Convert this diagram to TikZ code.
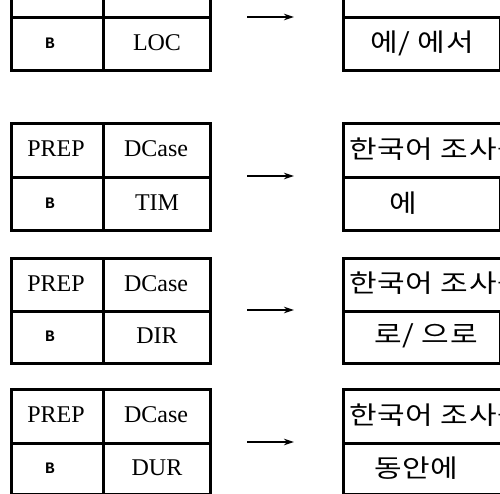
\documentclass[tikz,border=0pt]{standalone}
\usepackage{fontspec}
\setmainfont{Liberation Serif}
\newfontfamily\kr{Noto Sans CJK KR}[FakeStretch=1.2,LetterSpace=3]
\newfontfamily\bmono{Liberation Mono}
\usetikzlibrary{arrows.meta}
\begin{document}
\begin{tikzpicture}[x=1pt,y=-1pt,
  cell/.style={draw,line width=2.6pt,inner sep=0pt,anchor=north west},
  lab/.style={inner sep=0pt,font=\fontsize{24}{24}\selectfont},
  blab/.style={inner sep=0pt,font=\bmono\bfseries\fontsize{16}{16}\selectfont},
  klab/.style={inner sep=0pt,anchor=west,font=\kr\fontsize{25}{25}\selectfont},
  arr/.style={line width=1.3pt,-{Stealth[length=10pt,width=6.5pt]}}]
\useasboundingbox (0,0) rectangle (500,494);
\begin{scope}
\clip (0,0) rectangle (500,494);
% ---------- block 1 ----------
\node[cell,minimum width=92pt,minimum height=54pt] (L1a) at (10,-38) {};
\node[cell,minimum width=107pt,minimum height=54pt] (L1b) at (102,-38) {};
\node[cell,minimum width=92pt,minimum height=53pt] (L1c) at (10,16) {};
\node[cell,minimum width=107pt,minimum height=53pt] (L1d) at (102,16) {};
\node[blab] (t1c) at (50,43) {B};
\node[lab] (t1d) at (157,43) {LOC};
\node[cell,minimum width=240pt,minimum height=54pt] (R1a) at (342,-38) {};
\node[cell,minimum width=157pt,minimum height=53pt] (R1c) at (342,16) {};
\node[cell,minimum width=80pt,minimum height=53pt] (R1d) at (499,16) {};
\node[klab] (k1c) at (370,43) {에/ 에서};
\coordinate (a1s) at (247,17);
\coordinate (a1e) at (294,17);
\draw[arr] (a1s) -- (a1e);
% ---------- block 2 ----------
\node[cell,minimum width=92pt,minimum height=54pt] (L2a) at (10,122) {};
\node[cell,minimum width=107pt,minimum height=54pt] (L2b) at (102,122) {};
\node[cell,minimum width=92pt,minimum height=53pt] (L2c) at (10,176) {};
\node[cell,minimum width=107pt,minimum height=53pt] (L2d) at (102,176) {};
\node[lab] (t2a) at (56,149) {PREP};
\node[lab] (t2b) at (156,149) {DCase};
\node[blab] (t2c) at (50,203) {B};
\node[lab] (t2d) at (157,203) {TIM};
\node[cell,minimum width=240pt,minimum height=54pt] (R2a) at (342,122) {};
\node[cell,minimum width=157pt,minimum height=53pt] (R2c) at (342,176) {};
\node[cell,minimum width=80pt,minimum height=53pt] (R2d) at (499,176) {};
\node[klab] (k2a) at (349,149) {한국어 조사를};
\node[klab] (k2c) at (389,203) {에};
\coordinate (a2s) at (247,176);
\coordinate (a2e) at (294,176);
\draw[arr] (a2s) -- (a2e);
% ---------- block 3 ----------
\node[cell,minimum width=92pt,minimum height=53pt] (L3a) at (10,257) {};
\node[cell,minimum width=107pt,minimum height=53pt] (L3b) at (102,257) {};
\node[cell,minimum width=92pt,minimum height=52pt] (L3c) at (10,310) {};
\node[cell,minimum width=107pt,minimum height=52pt] (L3d) at (102,310) {};
\node[lab] (t3a) at (56,283.5) {PREP};
\node[lab] (t3b) at (156,283.5) {DCase};
\node[blab] (t3c) at (50,336) {B};
\node[lab] (t3d) at (157,336) {DIR};
\node[cell,minimum width=240pt,minimum height=53pt] (R3a) at (342,257) {};
\node[cell,minimum width=157pt,minimum height=52pt] (R3c) at (342,310) {};
\node[cell,minimum width=80pt,minimum height=52pt] (R3d) at (499,310) {};
\node[klab] (k3a) at (349,283.5) {한국어 조사를};
\node[klab] (k3c) at (374,336) {로/ 으로};
\coordinate (a3s) at (247,310);
\coordinate (a3e) at (294,310);
\draw[arr] (a3s) -- (a3e);
% ---------- block 4 ----------
\node[cell,minimum width=92pt,minimum height=54pt] (L4a) at (10,388) {};
\node[cell,minimum width=107pt,minimum height=54pt] (L4b) at (102,388) {};
\node[cell,minimum width=92pt,minimum height=51pt] (L4c) at (10,442) {};
\node[cell,minimum width=107pt,minimum height=51pt] (L4d) at (102,442) {};
\node[lab] (t4a) at (56,415) {PREP};
\node[lab] (t4b) at (156,415) {DCase};
\node[blab] (t4c) at (50,468) {B};
\node[lab] (t4d) at (157,468) {DUR};
\node[cell,minimum width=240pt,minimum height=54pt] (R4a) at (342,388) {};
\node[cell,minimum width=240pt,minimum height=51pt] (R4c) at (342,442) {};
\node[klab] (k4a) at (349,415) {한국어 조사를};
\node[klab] (k4c) at (374,468) {동안에};
\coordinate (a4s) at (247,442);
\coordinate (a4e) at (294,442);
\draw[arr] (a4s) -- (a4e);
\end{scope}
\end{tikzpicture}
\end{document}
